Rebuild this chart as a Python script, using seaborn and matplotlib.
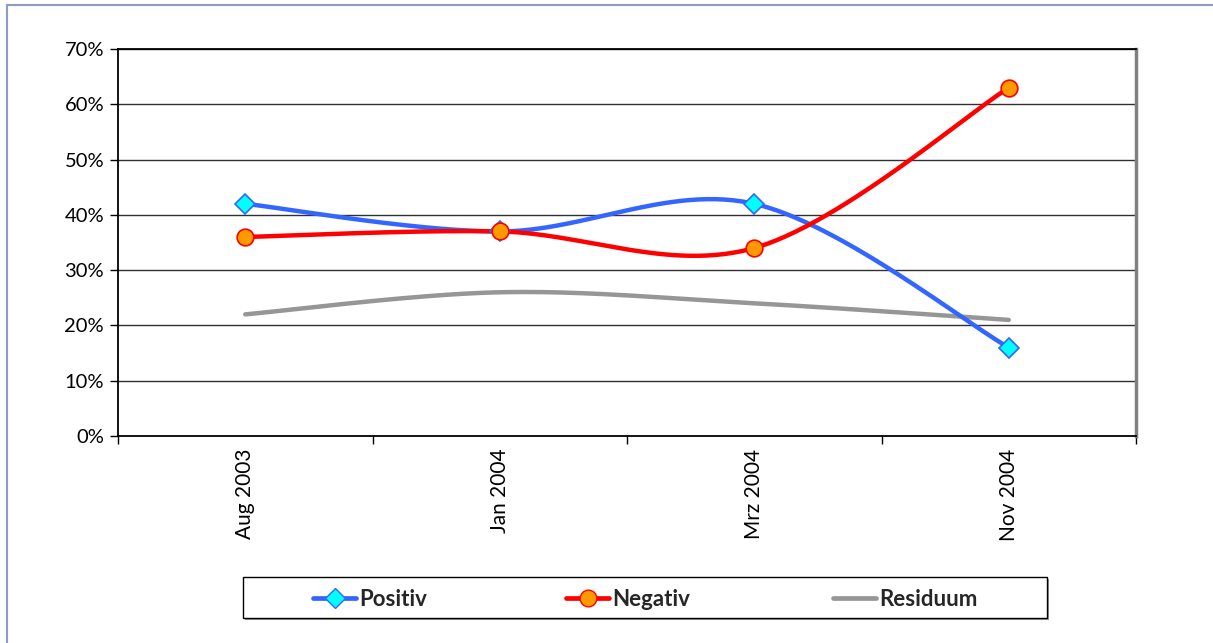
import numpy as np
import pandas as pd
import matplotlib
matplotlib.use("Agg")
import matplotlib.pyplot as plt
from matplotlib.lines import Line2D
from matplotlib.patches import Rectangle
import seaborn as sns

# Survey periods and shares (in percent)
periods = ["Aug 2003", "Jan 2004", "Mrz 2004", "Nov 2004"]
positiv = [42, 37, 42, 16]
negativ = [36, 37, 34, 63]
residuum = [22, 26, 24, 21]
y_ticks = [0, 10, 20, 30, 40, 50, 60, 70]

sns.set_theme(style="white")
plt.rcParams["font.family"] = ["Lato", "DejaVu Sans"]


def smooth(xs, ys, n=60):
    """Spreadsheet-style smoothed line: cubic Bezier segments with
    Catmull-Rom control points (tension 1/6)."""
    pts = np.column_stack([xs, ys]).astype(float)
    ext = np.vstack([pts[0], pts, pts[-1]])
    out = []
    t = np.linspace(0, 1, n)[:, None]
    for i in range(len(pts) - 1):
        p0, p1, p2, p3 = ext[i], ext[i + 1], ext[i + 2], ext[i + 3]
        c1 = p1 + (p2 - p0) / 6.0
        c2 = p2 - (p3 - p1) / 6.0
        seg = ((1 - t) ** 3) * p1 + 3 * ((1 - t) ** 2) * t * c1 \
            + 3 * (1 - t) * t ** 2 * c2 + t ** 3 * p2
        out.append(seg if i == 0 else seg[1:])
    arr = np.vstack(out)
    return arr[:, 0], arr[:, 1]


W, H = 1213, 643
fig = plt.figure(figsize=(W / 100, H / 100), dpi=100)
ax = fig.add_axes([118 / W, 1 - 436 / H, 1018 / W, 387 / H])

x = np.arange(len(periods))
# name, values, line colour, marker, face, edge, size, z-order
series = [
    ("Positiv", positiv, "#3366FF", "D", "#00FFFF", "#3366FF", 10, 3),
    ("Negativ", negativ, "#FF0000", "o", "#FF9900", "#FF0000", 12, 4),
    ("Residuum", residuum, "#969696", None, None, None, 0, 2),
]

for name, vals, col, mk, mfc, mec, ms, z in series:
    sx, sy = smooth(x, vals)
    sns.lineplot(x=sx, y=sy, ax=ax, color=col, lw=3.2, sort=False,
                 estimator=None, solid_capstyle="round", zorder=z)

# Markers: Negativ circles sit above Positiv diamonds
for name, vals, col, mk, mfc, mec, ms, z in series:
    if mk:
        ax.plot(x, vals, linestyle="none", marker=mk, ms=ms,
                markerfacecolor=mfc, markeredgecolor=mec, mew=1.2,
                zorder=6 if name == "Negativ" else 5)

ax.set_xlim(-0.5, len(periods) - 0.5)
ax.set_ylim(0, 70)

# Horizontal gridlines
for yv in y_ticks[1:]:
    ax.axhline(yv, color="#303030", lw=1.0, zorder=0)

ax.set_yticks(y_ticks)
ax.set_yticklabels([f"{v}%" for v in y_ticks], fontsize=14.5, color="black")
ax.tick_params(axis="y", direction="out", length=6, width=1, color="black",
               left=True, pad=4)

# Category labels at centres, tick marks at category boundaries
ax.set_xticks(x)
ax.set_xticklabels(periods, rotation=90, fontsize=15, color="black")
ax.set_xticks(np.arange(-0.5, len(periods)), minor=True)
ax.tick_params(axis="x", which="major", length=0, pad=9)
ax.tick_params(axis="x", which="minor", direction="out", length=6, width=1,
               color="black", bottom=True)

for side in ["left", "bottom", "top"]:
    ax.spines[side].set_color("black")
    ax.spines[side].set_linewidth(1.3)
ax.spines["right"].set_color("#808080")
ax.spines["right"].set_linewidth(2.5)
ax.set_xlabel("")
ax.set_ylabel("")

# Legend box with a light shadow
fig.add_artist(Rectangle((245 / W, 1 - 620 / H), 804 / W, 41 / H,
                         transform=fig.transFigure, facecolor="#9a9a9a",
                         edgecolor="none", zorder=1))
fig.add_artist(Rectangle((243 / W, 1 - 618 / H), 804 / W, 41 / H,
                         transform=fig.transFigure, facecolor="white",
                         edgecolor="black", lw=1.0, zorder=2))

# Legend entries
handles = [
    Line2D([], [], color="#3366FF", lw=3.4, marker="D", ms=10,
           markerfacecolor="#00FFFF", markeredgecolor="#3366FF"),
    Line2D([], [], color="#FF0000", lw=3.4, marker="o", ms=12,
           markerfacecolor="#FF9900", markeredgecolor="#FF0000"),
    Line2D([], [], color="#969696", lw=3.4),
]
entry_x = [313, 566, 833]
for h, s, ex in zip(handles, series, entry_x):
    lg = fig.legend([h], [s[0]], loc="center left",
                    bbox_to_anchor=(ex / W, 1 - 599 / H),
                    prop={"weight": "bold", "size": 16}, handlelength=1.95,
                    handletextpad=0.15, borderpad=0, borderaxespad=0,
                    frameon=False)
    lg.set_zorder(3)

# Outer chart frame
fig.add_artist(Line2D([7 / W, 7 / W], [0, 1 - 5 / H],
                      transform=fig.transFigure, color="#8C9BC8", lw=1.5))
fig.add_artist(Line2D([7 / W, 1], [1 - 5 / H, 1 - 5 / H],
                      transform=fig.transFigure, color="#8C9BC8", lw=1.5))

fig.savefig("out.png", dpi=100, facecolor="white")
